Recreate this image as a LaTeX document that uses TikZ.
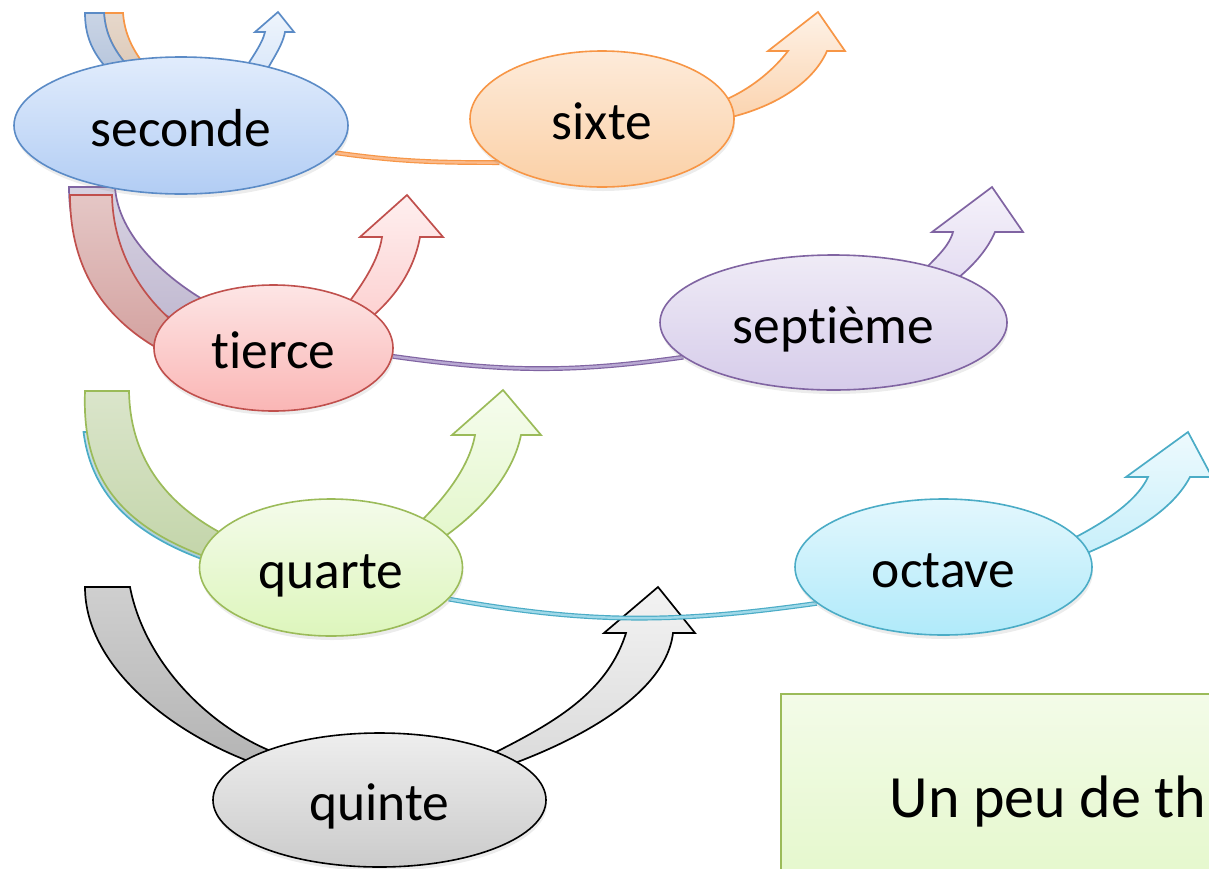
\documentclass[tikz,border=0pt]{standalone}
\usepackage{fontspec}
\setmainfont{Carlito}[Ligatures={NoCommon}]
\usepackage{xcolor}
\usepackage{tikz}
\usetikzlibrary{shapes.geometric,shadows,backgrounds}

\definecolor{bluebd}{HTML}{5B8BC6}
\definecolor{bluetop}{HTML}{E1ECFC}
\definecolor{bluebot}{HTML}{B2CDF4}
\definecolor{bluein}{HTML}{A6B8D4}
\definecolor{blueout}{HTML}{C8DCF6}
\definecolor{orbd}{HTML}{F79646}
\definecolor{ortop}{HTML}{FDEBDA}
\definecolor{orbot}{HTML}{FBD0A6}
\definecolor{orin}{HTML}{D5BDA8}
\definecolor{orout}{HTML}{FBD3AE}
\definecolor{orlink}{HTML}{FAB98A}
\definecolor{redbd}{HTML}{C0504D}
\definecolor{redtop}{HTML}{FDE5E5}
\definecolor{redbot}{HTML}{FAB6B5}
\definecolor{redin}{HTML}{D3A19F}
\definecolor{redout}{HTML}{FCCACA}
\definecolor{purbd}{HTML}{8064A2}
\definecolor{purtop}{HTML}{EFEBF6}
\definecolor{purbot}{HTML}{D6CCEA}
\definecolor{purin}{HTML}{BDB5CE}
\definecolor{purout}{HTML}{DDD3EE}
\definecolor{purlink}{HTML}{B8A8D2}
\definecolor{grnbd}{HTML}{9BBB59}
\definecolor{grntop}{HTML}{F4FBEA}
\definecolor{grnbot}{HTML}{DDF6BC}
\definecolor{grnin}{HTML}{C2D4A8}
\definecolor{grnout}{HTML}{E0F6C5}
\definecolor{cyanbd}{HTML}{4BACC6}
\definecolor{cyantop}{HTML}{E3F7FD}
\definecolor{cyanbot}{HTML}{B0EAFA}
\definecolor{cyanin}{HTML}{A9CCD6}
\definecolor{cyanout}{HTML}{C4EEFA}
\definecolor{cyanlink}{HTML}{9FD8E8}
\definecolor{greytop}{HTML}{EEEEEE}
\definecolor{greybot}{HTML}{CBCBCB}
\definecolor{greyin}{HTML}{AFAFAF}
\definecolor{greyout}{HTML}{D6D6D6}
\definecolor{boxtop}{HTML}{F3FBE8}
\definecolor{boxbot}{HTML}{E0F7C3}

\begin{document}
\begin{tikzpicture}[x=1pt,y=1pt,
  interval/.style n args={3}{ellipse, draw=#1, line width=1.6pt,
    top color=#2, bottom color=#3, inner sep=0pt,
    text height=45pt, text depth=4pt, font=\fontsize{53.5}{60}\selectfont,
    drop shadow={opacity=0.15, shadow xshift=1pt, shadow yshift=-4pt}},
  ribbon/.style 2 args={draw=#1, line width=1.7pt, line join=miter,
    top color=#2!30!white, bottom color=#2},
  back/.style 2 args={draw=#1, line width=1.7pt, top color=#2!60!white, bottom color=#2},
  link/.style 2 args={draw=#1, double=#2, double distance=2.4pt, line width=1.2pt}]

  \useasboundingbox (0,0) rectangle (1209,-868);

  % intervals
  \node[interval={bluebd}{bluetop}{bluebot}, minimum width=334pt, minimum height=137pt] (seconde) at (181,-125.5) {seconde};
  \node[interval={orbd}{ortop}{orbot}, minimum width=264pt, minimum height=136pt] (sixte) at (602,-119) {sixte};
  \node[interval={redbd}{redtop}{redbot}, minimum width=239pt, minimum height=126pt] (tierce) at (273.5,-348) {tierce};
  \node[interval={purbd}{purtop}{purbot}, minimum width=347pt, minimum height=135pt] (septieme) at (833.5,-322.5) {septième};
  \node[interval={grnbd}{grntop}{grnbot}, minimum width=263pt, minimum height=137pt] (quarte) at (331,-567.5) {quarte};
  \node[interval={cyanbd}{cyantop}{cyanbot}, minimum width=297pt, minimum height=136pt] (octave) at (943.5,-567) {octave};
  \node[interval={black}{greytop}{greybot}, minimum width=333pt, minimum height=134pt] (quinte) at (379.5,-800) {quinte};

  % title box
  \node[draw=grnbd, line width=1.6pt, top color=boxtop, bottom color=boxbot, inner sep=0pt,
    minimum width=500pt, minimum height=250pt, anchor=north west] (theorie) at (780,-693) {};
  \node[anchor=base west, font=\fontsize{60}{70}\selectfont] (titre) at (886,-817) {Un peu de th};

  % arrow tips
  \coordinate (seconde-tip) at (278,-12);
  \coordinate (sixte-tip) at (818,-12);
  \coordinate (tierce-tip) at (407,-195);
  \coordinate (septieme-tip) at (992,-187);
  \coordinate (quarte-tip) at (503,-390);
  \coordinate (octave-tip) at (1188,-432);
  \coordinate (quinte-tip) at (658,-587);

  \begin{pgfonlayer}{background}
    % seconde, sixte
    \draw[back={orbd}{orin}] (seconde.center) -- (135,-75) .. controls (118,-55) and (106,-40) .. (104,-13)
      -- (123,-13) .. controls (125,-40) and (138,-58) .. (155,-78) -- cycle;
    \draw[back={bluebd}{bluein}] (seconde.center) -- (118,-80) .. controls (95,-58) and (85,-40) .. (85,-13)
      -- (104,-13) .. controls (106,-40) and (118,-55) .. (135,-75) -- cycle;
    \draw[ribbon={bluebd}{blueout}] (seconde.center) -- (238,-80) .. controls (250,-60) and (262,-45) .. (265,-32)
      -- (255,-32) -- (seconde-tip) -- (294,-32) -- (285,-32) .. controls (282,-48) and (270,-62) .. (262,-80) -- cycle;
    \draw[link={orbd}{orlink}] (seconde.-10) to[out=-8,in=180] (sixte.203);
    \draw[ribbon={orbd}{orout}] (sixte.center) -- (712,-105) .. controls (750,-92) and (775,-68) .. (788,-51)
      -- (768,-51) -- (sixte-tip) -- (845,-51) -- (827,-51) .. controls (812,-85) and (770,-110) .. (718,-120) -- cycle;

    % tierce, septieme
    \draw[back={purbd}{purin}] (tierce.center) -- (185,-322) .. controls (110,-300) and (69,-260) .. (69,-187)
      -- (115,-187) .. controls (118,-235) and (165,-280) .. (218,-308) -- cycle;
    \draw[back={redbd}{redin}] (tierce.center) -- (170,-355) .. controls (110,-325) and (70,-275) .. (70,-195)
      -- (112,-195) .. controls (113,-250) and (140,-300) .. (190,-335) -- cycle;
    \draw[ribbon={redbd}{redout}] (tierce.center) -- (335,-320) .. controls (355,-295) and (378,-265) .. (382,-237)
      -- (360,-237) -- (tierce-tip) -- (443,-237) -- (420,-237) .. controls (413,-275) and (390,-305) .. (355,-330) -- cycle;
    \draw[link={purbd}{purlink}] (tierce.-4) to[out=-8,in=188] (septieme.193);
    \draw[ribbon={purbd}{purout}] (septieme.center) -- (910,-285) .. controls (930,-262) and (948,-250) .. (953,-232)
      -- (932,-232) -- (septieme-tip) -- (1023,-232) -- (995,-232) .. controls (985,-255) and (965,-275) .. (935,-295) -- cycle;

    % quarte, octave
    \draw[back={cyanbd}{cyanin}] (quarte.center) -- (213,-563) .. controls (127,-534) and (91,-490) .. (83.5,-432)
      -- (125,-432) .. controls (128,-480) and (170,-520) .. (237,-548) -- cycle;
    \draw[back={grnbd}{grnin}] (quarte.center) -- (215,-560) .. controls (112,-525) and (82,-470) .. (85,-391)
      -- (129,-391) .. controls (130,-452) and (160,-505) .. (235,-540) -- cycle;
    \draw[ribbon={grnbd}{grnout}] (quarte.center) -- (400,-540) .. controls (430,-515) and (468,-475) .. (475,-435)
      -- (452,-435) -- (quarte-tip) -- (541,-435) -- (521,-435) .. controls (512,-480) and (470,-525) .. (415,-555) -- cycle;

    % quinte
    \draw[back={black}{greyin}] (quinte.center) -- (268,-768) .. controls (180,-740) and (85,-670) .. (85,-587)
      -- (130,-587) .. controls (145,-665) and (215,-735) .. (290,-758) -- cycle;
    \draw[ribbon={black}{greyout}] (quinte.center) -- (470,-765) .. controls (540,-730) and (605,-700) .. (626,-633)
      -- (604,-633) -- (quinte-tip) -- (695,-633) -- (673,-633) .. controls (665,-700) and (560,-750) .. (480,-775) -- cycle;

    \draw[link={cyanbd}{cyanlink}] (quarte.-15) to[out=-10,in=188] (octave.196);
    \draw[ribbon={cyanbd}{cyanout}] (octave.center) -- (1060,-545) .. controls (1095,-528) and (1135,-505) .. (1148,-477)
      -- (1126,-477) -- (octave-tip) -- (1212,-477) -- (1190,-477) .. controls (1170,-515) and (1120,-540) .. (1070,-560) -- cycle;
  \end{pgfonlayer}
\end{tikzpicture}
\end{document}
